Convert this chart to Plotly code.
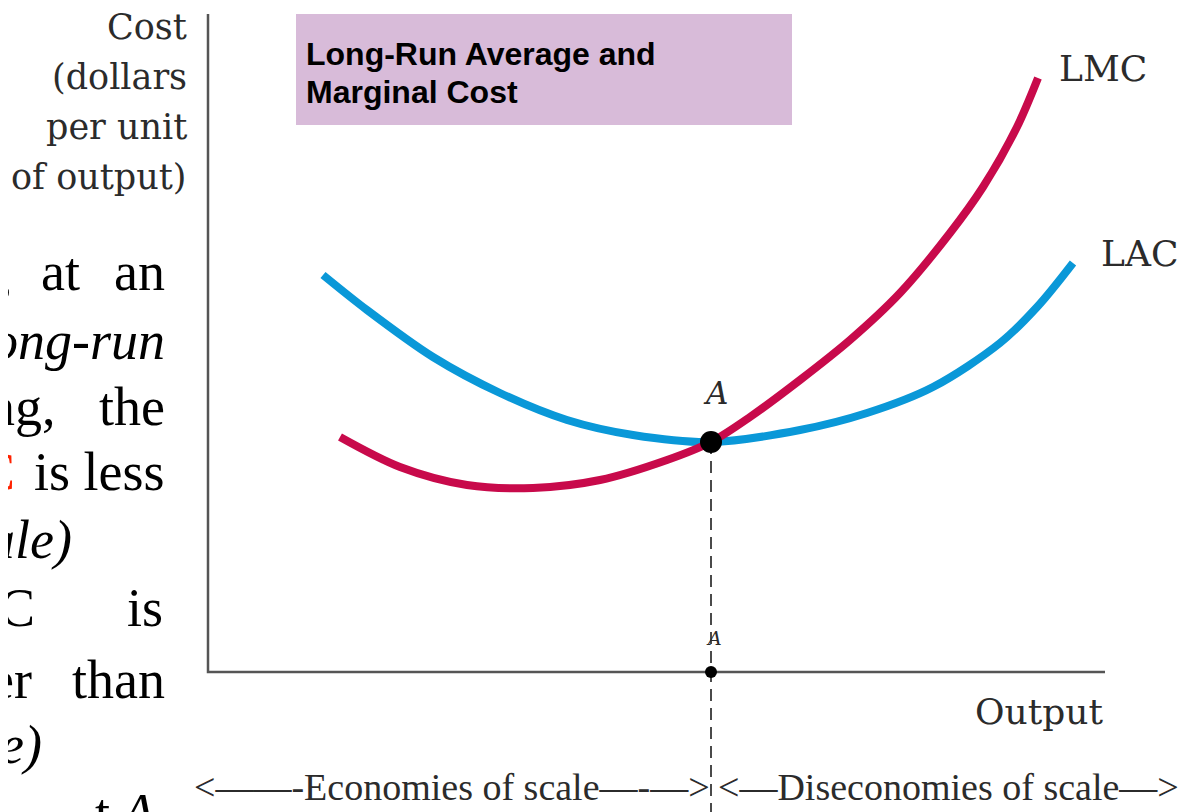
import plotly.graph_objects as go

# ---- data (output units, cost units) ----
lac_q = [11.5, 15.9, 22.5, 29.2, 35.9, 42.5, 50.3, 59.2, 65.9, 72.5, 79.2, 83.0, 86.5]
lac_c = [39.7, 36.2, 31.5, 27.9, 25.2, 23.7, 23.0, 24.2, 25.9, 28.5, 32.9, 36.6, 40.9]

lmc_q = [13.2, 19.2, 25.9, 32.5, 39.2, 45.9, 50.3, 54.2, 59.2, 64.2, 69.2, 74.2, 77.5, 80.9, 83.0]
lmc_c = [23.5, 20.5, 18.7, 18.4, 19.2, 21.2, 23.0, 25.5, 29.2, 33.2, 37.9, 43.9, 48.5, 54.5, 59.4]

point_a = (50.3, 23.0)

title_lines = ["Long-Run Average and", "Marginal Cost"]
ylabel_lines = ["Cost", "(dollars", "per unit", "of output)"]
xlabel = "Output"
curve_labels = ["LMC", "LAC"]
scale_left = "<——-Economies of scale—-—>"
scale_right = "<—Diseconomies of scale—>"

# cut-off paragraph on the left: rows of word fragments
side_rows = [
    ["g", "at", "an"],
    ["<i>ong-run</i>"],
    ["ng,", "the"],
    ["<span style='color:#ff2200'>C</span>", "is less"],
    ["<i>ale)</i>"],
    ["C", "is"],
    ["er", "than"],
    ["<i>le)</i>"],
    ["t", "<i>A</i>"],
]

LAC_COLOR = "#0a98d8"
LMC_COLOR = "#c80a4b"
AXIS_COLOR = "#555555"
TXT = "#2b2b2b"

fig = go.Figure()

# dashed guide from A down
fig.add_trace(go.Scatter(x=[point_a[0], point_a[0]], y=[point_a[1], -14.0], mode="lines",
                         line=dict(color="#4a4a4a", width=2, dash="12px,7px"), hoverinfo="skip"))
# axes
fig.add_trace(go.Scatter(x=[0, 0, 89.7], y=[65.8, 0, 0], mode="lines",
                         line=dict(color=AXIS_COLOR, width=2.5), hoverinfo="skip"))
# curves
fig.add_trace(go.Scatter(x=lac_q, y=lac_c, mode="lines",
                         line=dict(color=LAC_COLOR, width=8, shape="spline", smoothing=0.9)))
fig.add_trace(go.Scatter(x=lmc_q, y=lmc_c, mode="lines",
                         line=dict(color=LMC_COLOR, width=8, shape="spline", smoothing=0.9)))
# points
fig.add_trace(go.Scatter(x=[point_a[0]], y=[point_a[1]], mode="markers", marker=dict(color="black", size=22)))
fig.add_trace(go.Scatter(x=[point_a[0]], y=[0], mode="markers", marker=dict(color="black", size=12)))

# title box
fig.add_shape(type="rect", x0=8.8, x1=58.4, y0=54.7, y1=65.8, fillcolor="#d8bbd9", line_width=0, layer="below")

ann = []
for i, t in enumerate(title_lines):
    ann.append(dict(x=9.6, y=61.8 - 3.8 * i, text="<b>" + t + "</b>", xanchor="left", yanchor="middle",
                    font=dict(family="Liberation Sans", size=32, color="black")))
for i, t in enumerate(ylabel_lines):
    ann.append(dict(x=-1.9, y=64.5 - 5.0 * i, text=t, xanchor="right", yanchor="middle",
                    font=dict(family="DejaVu Serif", size=35, color=TXT)))
ann.append(dict(x=84.9, y=60.4, text=curve_labels[0], xanchor="left", yanchor="middle",
                font=dict(family="DejaVu Serif", size=36, color=TXT)))
ann.append(dict(x=89.1, y=41.9, text=curve_labels[1], xanchor="left", yanchor="middle",
                font=dict(family="DejaVu Serif", size=36, color=TXT)))
ann.append(dict(x=76.5, y=-3.9, text=xlabel, xanchor="left", yanchor="middle",
                font=dict(family="DejaVu Serif", size=36, color=TXT)))
ann.append(dict(x=50.7, y=27.9, text="<i>A</i>", xanchor="center", yanchor="middle",
                font=dict(family="DejaVu Serif", size=31, color=TXT)))
ann.append(dict(x=50.6, y=3.4, text="<i>A</i>", xanchor="center", yanchor="middle",
                font=dict(family="DejaVu Serif", size=19, color=TXT)))
ann.append(dict(x=50.4, y=-11.5, text=scale_left, xanchor="right", yanchor="middle",
                font=dict(family="Liberation Serif", size=38, color=TXT)))
ann.append(dict(x=50.8, y=-11.5, text=scale_right, xanchor="left", yanchor="middle",
                font=dict(family="Liberation Serif", size=38, color=TXT)))

# right edges (output units) of each fragment and row anchors
side_right = [
    [-19.6, -12.6, -4.1],
    [-4.1],
    [-15.0, -4.1],
    [-19.1, -4.1],
    [-13.4],
    [-17.1, -4.3],
    [-17.4, -4.1],
    [-16.4],
    [-9.6, -5.0],
]
side_y = [40.0, 33.1, 26.5, 20.0, 13.2, 6.4, -0.8, -7.3, -10.9]
side_yanchor = ["middle"] * 8 + ["top"]
for words, rights, yy, ya in zip(side_rows, side_right, side_y, side_yanchor):
    for w, xr in zip(words, rights):
        ann.append(dict(x=xr, y=yy, text=w, xanchor="right", yanchor=ya,
                        font=dict(family="Liberation Serif", size=54, color="black")))

for a in ann:
    a.update(xref="x", yref="y", showarrow=False)

fig.update_layout(
    width=1180, height=804,
    margin=dict(l=0, r=0, t=0, b=0),
    paper_bgcolor="white", plot_bgcolor="white",
    showlegend=False,
    xaxis=dict(range=[-20.0, 98.0], visible=False, fixedrange=True),
    yaxis=dict(range=[-14.0, 66.4], visible=False, fixedrange=True),
    annotations=ann,
)

fig.write_html("out.html")
